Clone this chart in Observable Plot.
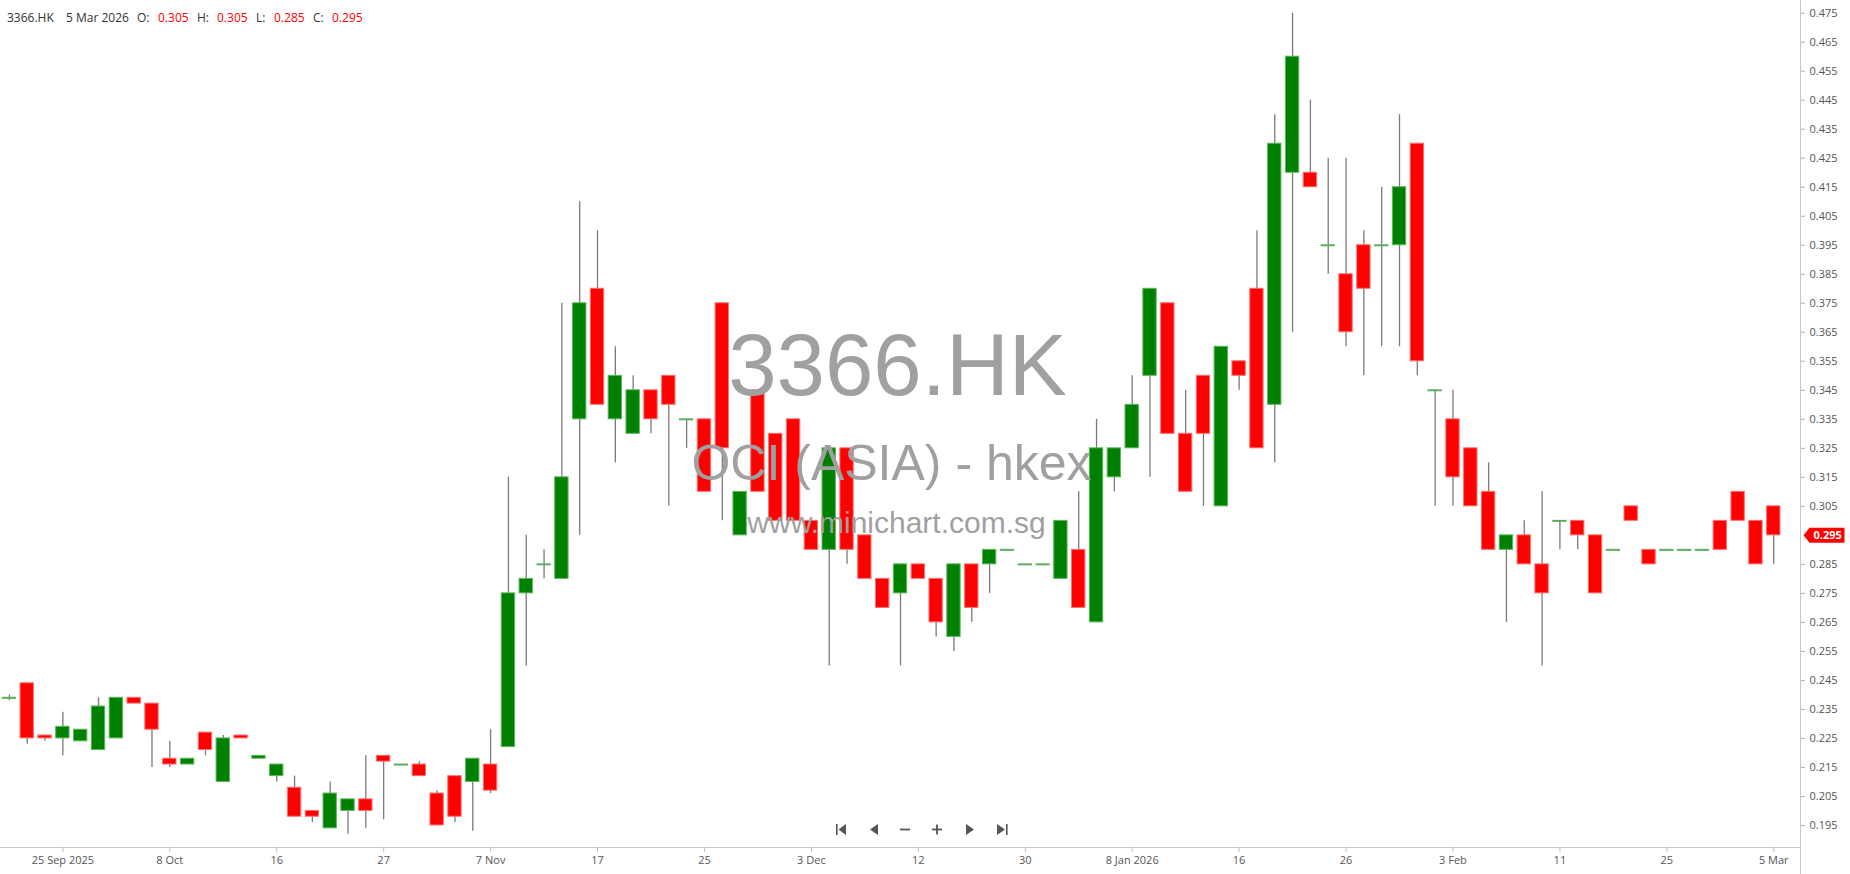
<!DOCTYPE html>
<html><head><meta charset="utf-8">
<script src="https://cdn.jsdelivr.net/npm/d3@7"></script>
<script src="https://cdn.jsdelivr.net/npm/@observablehq/plot@0.6"></script>
<style>
html,body{margin:0;padding:0;background:#fff;overflow:hidden}
#wrap{position:relative;width:1850px;height:874px;font-family:"Open Sans",sans-serif}
#hdr{position:absolute;left:0;top:0;width:600px;height:30px;font-size:12px;color:#333}
#hdr span{position:absolute;top:12px;line-height:12px;white-space:nowrap}
#nav{position:absolute;left:828px;top:820px}
</style></head>
<body><div id="wrap"><div id="chart"></div><div id="hdr"></div>
<svg id="nav" width="190" height="20" fill="#555">
<rect x="8" y="4" width="1.6" height="11"/><polygon points="18,4 18,15 10.5,9.5"/>
<polygon points="50,4 50,15 42,9.5"/>
<rect x="72" y="8.6" width="10" height="1.8"/>
<rect x="104" y="8.6" width="10" height="1.8"/><rect x="108.1" y="4.5" width="1.8" height="10"/>
<polygon points="138,4 138,15 146,9.5"/>
<polygon points="169,4 169,15 177,9.5"/><rect x="178" y="4" width="1.6" height="11"/>
</svg>
</div>
<script>
const ticker = "3366.HK";
const company = "OCI (ASIA) - hkex";
const site = "www.minichart.com.sg";
const lastDate = "5 Mar 2026";

const opens  = [0.239,0.244,0.226,0.225,0.224,0.221,0.225,0.239,0.237,0.218,0.216,0.227,0.210,0.226,0.218,0.212,0.208,0.200,0.194,0.200,
                0.204,0.219,0.216,0.216,0.206,0.212,0.210,0.216,0.222,0.275,0.285,0.280,0.335,0.380,0.335,0.330,0.345,0.350,0.335,0.335,
                0.375,0.295,0.345,0.330,0.335,0.300,0.290,0.325,0.295,0.280,0.275,0.285,0.280,0.260,0.285,0.285,0.290,0.285,0.285,0.280,
                0.290,0.265,0.315,0.325,0.350,0.375,0.330,0.350,0.305,0.355,0.380,0.340,0.420,0.420,0.395,0.385,0.395,0.395,0.395,0.430,
                0.345,0.335,0.325,0.310,0.290,0.295,0.285,0.300,0.300,0.295,0.290,0.305,0.290,0.290,0.290,0.290,0.300,0.310,0.300,0.305];
const highs  = [0.240,0.244,0.226,0.234,0.228,0.239,0.239,0.239,0.237,0.224,0.218,0.227,0.226,0.226,0.219,0.216,0.212,0.200,0.210,0.204,
                0.219,0.219,0.216,0.217,0.207,0.212,0.218,0.228,0.315,0.295,0.290,0.375,0.410,0.400,0.360,0.350,0.345,0.350,0.335,0.335,
                0.375,0.310,0.345,0.330,0.335,0.300,0.325,0.325,0.295,0.280,0.285,0.285,0.280,0.285,0.285,0.290,0.290,0.285,0.285,0.300,
                0.310,0.335,0.325,0.350,0.380,0.375,0.345,0.350,0.360,0.355,0.400,0.440,0.475,0.445,0.425,0.425,0.400,0.415,0.440,0.430,
                0.345,0.345,0.325,0.320,0.295,0.300,0.310,0.300,0.300,0.295,0.290,0.305,0.290,0.290,0.290,0.290,0.300,0.310,0.300,0.305];
const lows   = [0.238,0.223,0.224,0.219,0.224,0.221,0.225,0.237,0.215,0.215,0.216,0.219,0.210,0.225,0.218,0.210,0.198,0.196,0.194,0.192,
                0.194,0.197,0.216,0.212,0.195,0.196,0.193,0.206,0.222,0.250,0.280,0.280,0.295,0.340,0.320,0.330,0.330,0.305,0.325,0.310,
                0.300,0.295,0.310,0.300,0.300,0.290,0.250,0.285,0.280,0.270,0.250,0.280,0.260,0.255,0.265,0.275,0.290,0.285,0.285,0.280,
                0.270,0.265,0.310,0.325,0.315,0.330,0.310,0.305,0.305,0.345,0.325,0.320,0.365,0.415,0.385,0.360,0.350,0.360,0.360,0.350,
                0.305,0.305,0.305,0.290,0.265,0.285,0.250,0.290,0.290,0.275,0.290,0.300,0.285,0.290,0.290,0.290,0.290,0.300,0.285,0.285];
const closes = [0.239,0.225,0.225,0.229,0.228,0.236,0.239,0.237,0.228,0.216,0.218,0.221,0.225,0.225,0.219,0.216,0.198,0.198,0.206,0.204,
                0.200,0.217,0.216,0.212,0.195,0.198,0.218,0.207,0.275,0.280,0.285,0.315,0.375,0.340,0.350,0.345,0.335,0.340,0.335,0.310,
                0.325,0.310,0.310,0.300,0.300,0.290,0.325,0.290,0.280,0.270,0.285,0.280,0.265,0.285,0.270,0.290,0.290,0.285,0.285,0.300,
                0.270,0.325,0.325,0.340,0.380,0.330,0.310,0.330,0.360,0.350,0.325,0.430,0.460,0.415,0.395,0.365,0.380,0.395,0.415,0.355,
                0.345,0.315,0.305,0.290,0.295,0.285,0.275,0.300,0.295,0.275,0.290,0.300,0.285,0.290,0.290,0.290,0.290,0.300,0.285,0.295];

const tickIndex  = [3,9,15,21,27,33,39,45,51,57,63,69,75,81,87,93,99];
const tickLabels = ["25 Sep 2025","8 Oct","16","27","7 Nov","17","25","3 Dec","12","30","8 Jan 2026","16","26","3 Feb","11","25","5 Mar"];
const yTicks = [0.195,0.205,0.215,0.225,0.235,0.245,0.255,0.265,0.275,0.285,0.295,0.305,0.315,0.325,0.335,0.345,0.355,
                0.365,0.375,0.385,0.395,0.405,0.415,0.425,0.435,0.445,0.455,0.465,0.475];

const data = opens.map((o, i) => ({i, o, h: highs[i], l: lows[i], c: closes[i]}));
const up = data.filter(d => d.c > d.o);
const down = data.filter(d => d.c < d.o);
const doji = data.filter(d => d.c === d.o);
const last = data[data.length - 1];

const W = 1850, H = 874, mB = 27, mR = 50;
const xDom = [-0.5, 100.5];
const yDom = [0.1874, 0.47937];
const pxPerUnit = (H - mB) / (yDom[1] - yDom[0]);
const yBelow = yDom[0] - mB / pxPerUnit;
const fmt = d3.format(".3f");
const axisTicks = yTicks.filter(t => Math.abs(t - last.c) > 0.004);

const tagSymbol = {draw(ctx) {
  ctx.moveTo(3, 0); ctx.lineTo(9, -7.5); ctx.lineTo(44, -7.5);
  ctx.lineTo(44, 7.5); ctx.lineTo(9, 7.5); ctx.closePath();
}};

const chart = Plot.plot({
  width: W, height: H,
  marginTop: 0, marginLeft: 0, marginRight: mR, marginBottom: mB,
  style: {fontFamily: '"Open Sans", sans-serif', fontSize: "11px", background: "#fff", overflow: "visible"},
  x: {domain: xDom, axis: null},
  y: {domain: yDom, axis: null},
  marks: [
    Plot.ruleY([yDom[0]], {stroke: "#c8c8c8"}),
    Plot.ruleX([xDom[1]], {y1: yBelow, y2: yDom[1], stroke: "#c8c8c8"}),
    Plot.axisX({ticks: tickIndex, tickFormat: v => tickLabels[tickIndex.indexOf(v)], tickSize: 5, tickPadding: 4,
                stroke: "#c0c0c0", fill: "#555", fontSize: 11, label: null}),
    Plot.axisY({anchor: "right", ticks: axisTicks, tickFormat: fmt, tickSize: 4, tickPadding: 5,
                stroke: "#b0b0b0", fill: "#555", fontSize: 11, label: null}),
    Plot.ruleX(data, {x: "i", y1: "l", y2: "h", stroke: "#7a7a7a", strokeWidth: 1.3}),
    Plot.rect(up, {x1: d => d.i - 0.375, x2: d => d.i + 0.375, y1: "o", y2: "c", fill: "#008000", stroke: "#5cb85c", strokeWidth: 1}),
    Plot.rect(down, {x1: d => d.i - 0.375, x2: d => d.i + 0.375, y1: "o", y2: "c", fill: "#ff0000", stroke: "#ff7070", strokeWidth: 1}),
    Plot.ruleY(doji, {y: "c", x1: d => d.i - 0.4, x2: d => d.i + 0.4, stroke: "#5cae5c", strokeWidth: 2}),
    Plot.text([ticker], {frameAnchor: "middle", text: d => d, fontSize: 87, fill: "#a0a0a0", dx: -3, dy: -57, fontFamily: "Liberation Sans"}),
    Plot.text([company], {frameAnchor: "middle", text: d => d, fontSize: 50, fill: "#a0a0a0", dx: -9, dy: 40, fontFamily: "Liberation Sans"}),
    Plot.text([site], {frameAnchor: "middle", text: d => d, fontSize: 30, fill: "#a0a0a0", dx: -4, dy: 99, fontFamily: "Liberation Sans"}),
    Plot.dot([last], {x: () => xDom[1], y: "c", symbol: tagSymbol, fill: "#ff0000", stroke: null, r: 5}),
    Plot.text([last], {x: () => xDom[1], y: "c", text: d => fmt(d.c), dx: 13, textAnchor: "start", fill: "#fff", fontWeight: "bold", fontSize: 11})
  ]
});
document.getElementById("chart").appendChild(chart);

const hdr = document.getElementById("hdr");
const red = "#ff0000";
[[ticker, 7, null], [lastDate, 66, null], ["O:", 137, null], [fmt(last.o), 158, red], ["H:", 197, null], [fmt(last.h), 217, red],
 ["L:", 256, null], [fmt(last.l), 274, red], ["C:", 313, null], [fmt(last.c), 332, red]].forEach(([t, x, c]) => {
  const s = document.createElement("span");
  s.textContent = t; s.style.left = x + "px"; if (c) s.style.color = c;
  hdr.appendChild(s);
});
</script>
</body></html>
